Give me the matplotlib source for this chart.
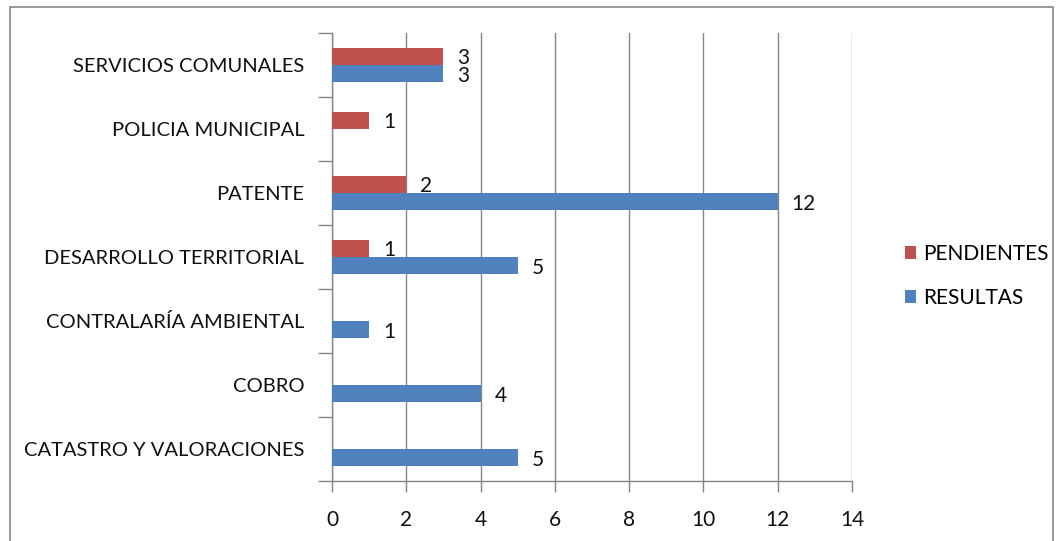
import matplotlib
matplotlib.use("Agg")
import matplotlib.pyplot as plt
import numpy as np

# Chart data (bottom to top as drawn)
categories = ["CATASTRO Y VALORACIONES", "COBRO", "CONTRALARÍA AMBIENTAL",
              "DESARROLLO TERRITORIAL", "PATENTE", "POLICIA MUNICIPAL",
              "SERVICIOS COMUNALES"]
resultas = [5, 4, 1, 5, 12, None, 3]
pendientes = [None, None, None, 1, 2, 1, 3]
x_ticks = [0, 2, 4, 6, 8, 10, 12, 14]

red = "#C0504D"
blue = "#4F81BD"
axis_gray = "#868686"
text_col = "#111111"

plt.rcParams['font.family'] = ['Lato', 'DejaVu Sans']

fig = plt.figure(figsize=(10.57, 5.41), dpi=100)
ax = fig.add_axes([332 / 1057, 1 - 481 / 541, 520 / 1057, 448 / 541])

y = np.arange(len(categories))
h = 0.27
res_vals = [v if v is not None else 0 for v in resultas]
pen_vals = [v if v is not None else 0 for v in pendientes]
ax.barh(y - h / 2, res_vals, height=h, color=blue, label="RESULTAS", zorder=3)
ax.barh(y + h / 2, pen_vals, height=h, color=red, label="PENDIENTES", zorder=3)

# Value labels
for yi, v in zip(y, resultas):
    if v is not None:
        ax.annotate(str(v), (v, yi - h / 2), xytext=(10, -2), textcoords="offset points",
                    va="center", ha="left", fontsize=15, color=text_col)
for yi, v in zip(y, pendientes):
    if v is not None:
        ax.annotate(str(v), (v, yi + h / 2), xytext=(10, -1), textcoords="offset points",
                    va="center", ha="left", fontsize=15, color=text_col)

ax.set_xlim(0, 14)
ax.set_ylim(-0.5, len(categories) - 0.5)
ax.set_xticks(x_ticks)
ax.set_xticklabels([str(t) for t in x_ticks], fontsize=15, color=text_col)
ax.xaxis.grid(True, color=axis_gray, linewidth=1, zorder=0)

ax.set_yticks(np.arange(len(categories) + 1) - 0.5)
ax.set_yticklabels([])
ax.set_yticks(y, minor=True)
ax.set_yticklabels(categories, minor=True, fontsize=14.5, color=text_col)
ax.tick_params(axis="y", which="minor", length=0, pad=20)
ax.tick_params(axis="y", which="major", length=10, width=1, color=axis_gray, direction="out")
ax.tick_params(axis="x", length=8, width=1, color=axis_gray, direction="out", pad=13)

for side in ["top", "right"]:
    ax.spines[side].set_visible(False)
for side in ["left", "bottom"]:
    ax.spines[side].set_color(axis_gray)
    ax.spines[side].set_linewidth(1)

handles, labels = ax.get_legend_handles_labels()
leg = fig.legend(handles[::-1], labels[::-1], loc="center left",
                 bbox_to_anchor=(886 / 1057, 1 - 276 / 541), frameon=False,
                 fontsize=15, handlelength=0.55, handleheight=0.55,
                 handletextpad=0.35, labelspacing=1.15)

# Outer chart border
fig.patches.append(plt.Rectangle((10 / 1057, -0.02), 1043 / 1057, 1 - 7 / 541 + 0.02,
                                 transform=fig.transFigure, fill=False,
                                 edgecolor=axis_gray, linewidth=1.2))

fig.savefig("out.png", dpi=100)
